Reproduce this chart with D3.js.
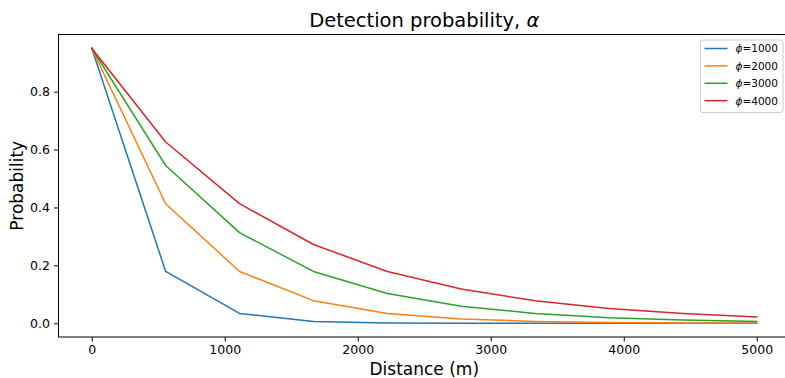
<!DOCTYPE html>
<html>
<head>
<meta charset="utf-8">
<script src="https://cdn.jsdelivr.net/npm/d3@7"></script>
<style>
  html, body { margin: 0; padding: 0; background: #fff; }
  svg { display: block; font-family: "DejaVu Sans", sans-serif; }
</style>
</head>
<body>
<svg id="chart" width="785" height="378"></svg>
<script>
// Data
const distances = [0, 555.6, 1111.1, 1666.7, 2222.2, 2777.8, 3333.3, 3888.9, 4444.4, 5000];
const phi1000 = [0.95, 0.179, 0.034, 0.0064, 0.0012, 0.0002, 0.00004, 0, 0, 0];
const phi2000 = [0.95, 0.413, 0.179, 0.078, 0.034, 0.0147, 0.0064, 0.0028, 0.0012, 0.0005];
const phi3000 = [0.95, 0.545, 0.313, 0.179, 0.103, 0.059, 0.034, 0.019, 0.011, 0.0064];
const phi4000 = [0.95, 0.626, 0.413, 0.272, 0.179, 0.118, 0.078, 0.051, 0.034, 0.022];
const seriesNames = ["1000", "2000", "3000", "4000"];
const seriesColors = ["#1f77b4", "#ff7f0e", "#2ca02c", "#d62728"];
const xTicks = [0, 1000, 2000, 3000, 4000, 5000];
const yTicks = [0.0, 0.2, 0.4, 0.6, 0.8];
const title = "Detection probability, ";
const xLabel = "Distance (m)";
const yLabel = "Probability";

const series = [phi1000, phi2000, phi3000, phi4000];

const svg = d3.select("#chart");
const plot = { left: 58.5, right: 790, top: 34.5, bottom: 337 };

const x = d3.scaleLinear().domain([-250, 5250]).range([plot.left, plot.right]);
const y = d3.scaleLinear().domain([-0.0475, 0.9975]).range([plot.bottom, plot.top]);

// Lines
const line = d3.line().x((d, i) => x(distances[i])).y(d => y(d));
series.forEach((s, i) => {
  svg.append("path")
    .datum(s)
    .attr("d", line)
    .attr("fill", "none")
    .attr("stroke", seriesColors[i])
    .attr("stroke-width", 1.5)
    .attr("stroke-linejoin", "round")
    .attr("stroke-linecap", "square");
});

// Spines
svg.append("rect")
  .attr("x", plot.left).attr("y", plot.top)
  .attr("width", plot.right - plot.left).attr("height", plot.bottom - plot.top)
  .attr("fill", "none").attr("stroke", "#000").attr("stroke-width", 1);

// Axes
const xAxis = d3.axisBottom(x).tickValues(xTicks).tickFormat(d3.format("d")).tickSizeOuter(0).tickSize(4.5).tickPadding(4);
const gx = svg.append("g").attr("transform", `translate(0,${plot.bottom})`).call(xAxis);
gx.select(".domain").remove();
gx.selectAll("text").attr("font-size", 12.5).attr("font-family", "DejaVu Sans").attr("fill", "#000");
gx.selectAll("line").attr("stroke", "#000");

const yAxis = d3.axisLeft(y).tickValues(yTicks).tickFormat(d3.format(".1f")).tickSizeOuter(0).tickSize(4.5).tickPadding(4);
const gy = svg.append("g").attr("transform", `translate(${plot.left},0)`).call(yAxis);
gy.select(".domain").remove();
gy.selectAll("text").attr("font-size", 12.5).attr("font-family", "DejaVu Sans").attr("fill", "#000");
gy.selectAll("line").attr("stroke", "#000");

// Title
const t = svg.append("text")
  .attr("x", (plot.left + plot.right) / 2).attr("y", 27)
  .attr("text-anchor", "middle").attr("font-size", 19.5).attr("fill", "#000");
t.append("tspan").text(title);
t.append("tspan").attr("font-style", "italic").text("α");

// Axis labels
svg.append("text")
  .attr("x", (plot.left + plot.right) / 2).attr("y", 375)
  .attr("text-anchor", "middle").attr("font-size", 17).attr("fill", "#000")
  .text(xLabel);
svg.append("text")
  .attr("transform", `translate(23,${(plot.top + plot.bottom) / 2}) rotate(-90)`)
  .attr("text-anchor", "middle").attr("font-size", 17).attr("fill", "#000")
  .text(yLabel);

// Legend
const lg = svg.append("g").attr("transform", "translate(700.5,40)");
lg.append("rect").attr("width", 82.5).attr("height", 72.5).attr("rx", 2.5)
  .attr("fill", "#fff").attr("fill-opacity", 0.8).attr("stroke", "#ccc").attr("stroke-width", 1);
seriesNames.forEach((name, i) => {
  const yy = 8.5 + i * 17.4;
  lg.append("line").attr("x1", 4).attr("x2", 27).attr("y1", yy).attr("y2", yy)
    .attr("stroke", seriesColors[i]).attr("stroke-width", 1.5);
  const tx = lg.append("text").attr("x", 35).attr("y", yy + 3.8).attr("font-size", 10.5).attr("fill", "#000");
  tx.append("tspan").attr("font-style", "italic").text("ϕ");
  tx.append("tspan").text("=" + name);
});
</script>
</body>
</html>
